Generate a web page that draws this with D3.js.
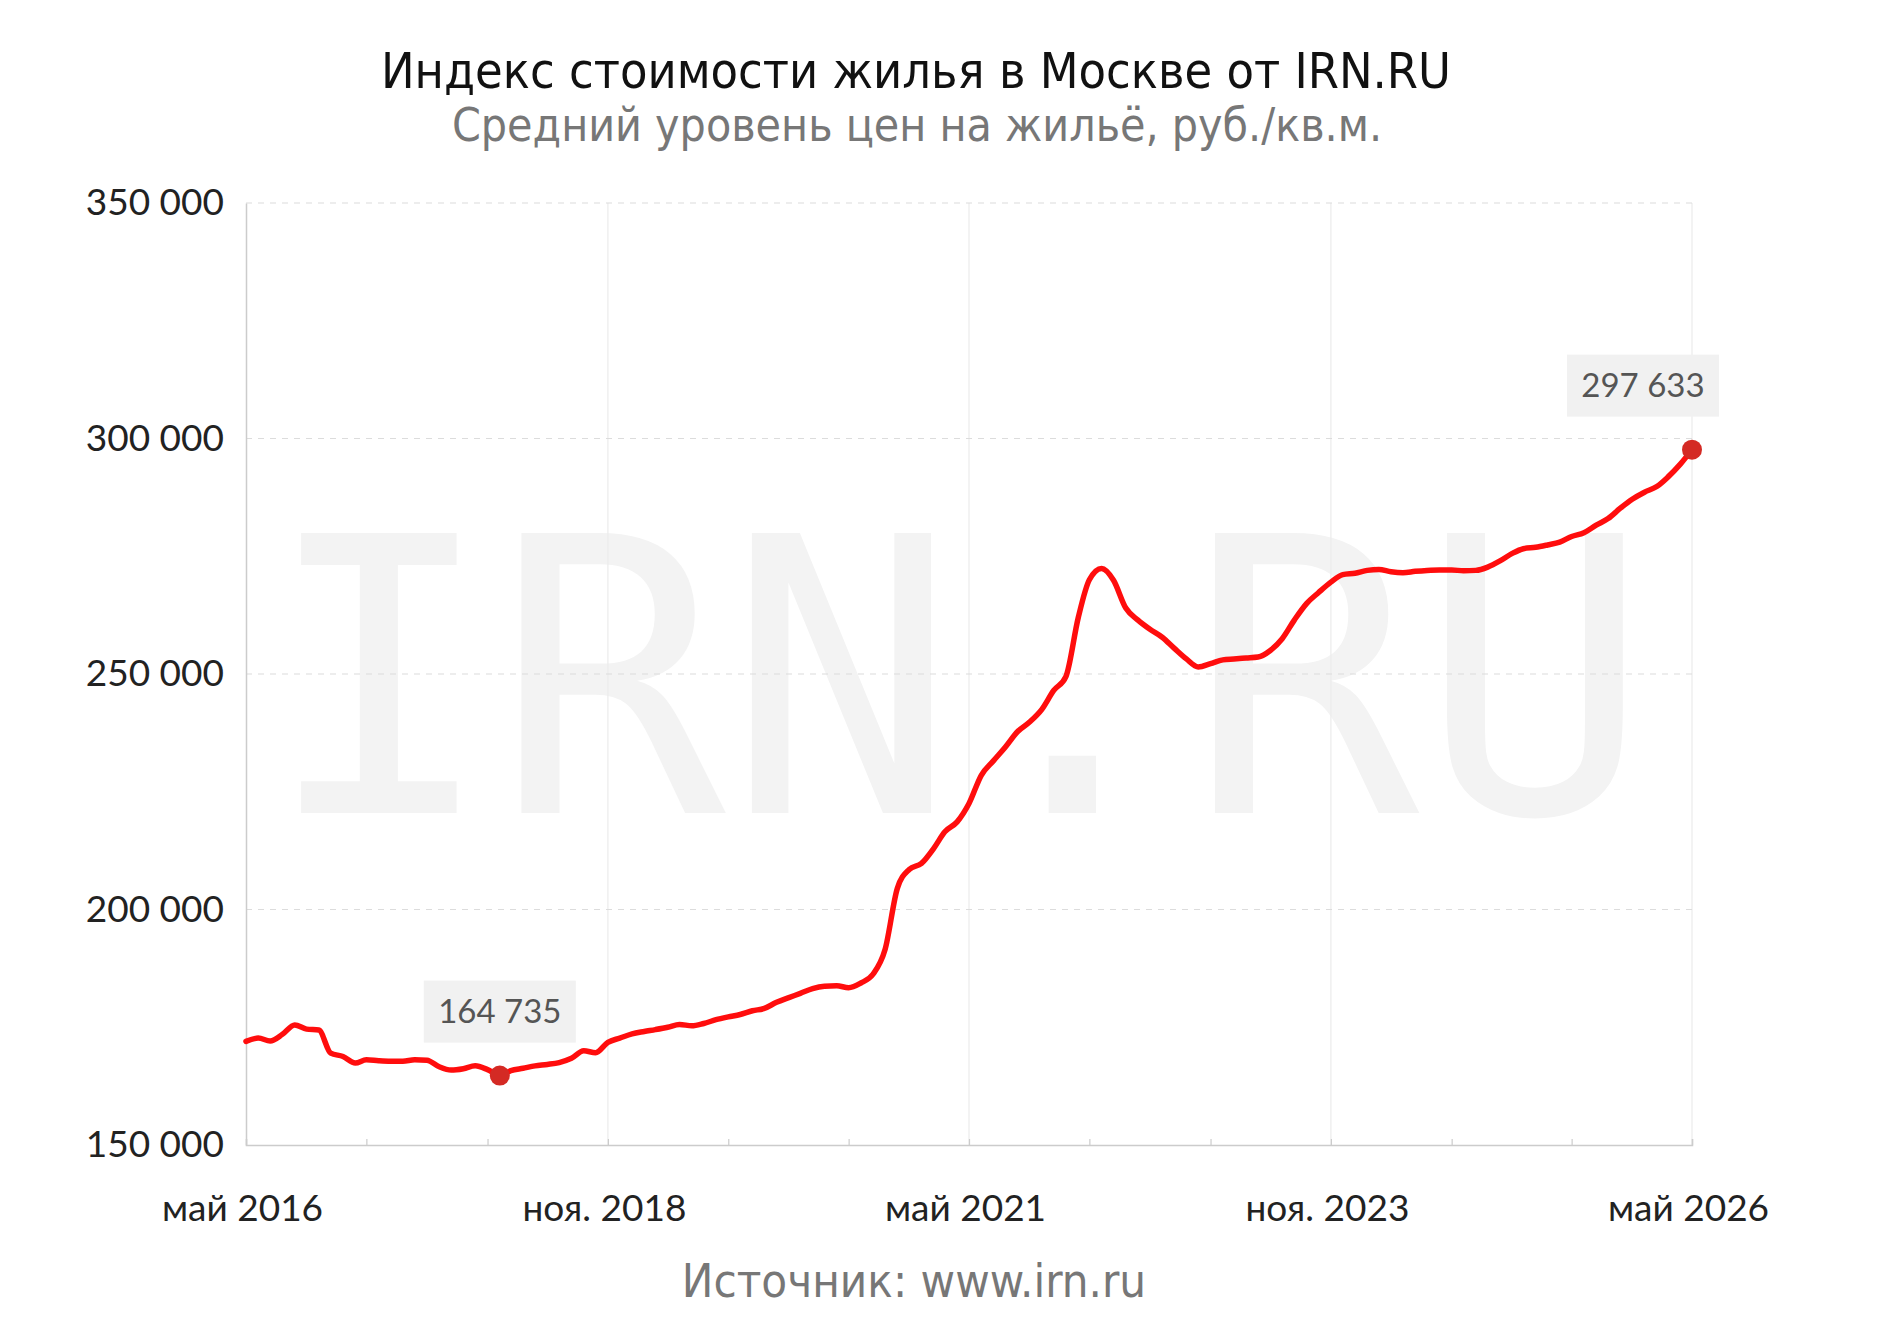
<!DOCTYPE html>
<html>
<head>
<meta charset="utf-8">
<script src="https://cdn.jsdelivr.net/npm/d3@7"></script>
<style>
  body { margin: 0; background: #fff; }
  svg { display: block; }
</style>
</head>
<body>
<svg id="chart" width="1880" height="1338"></svg>
<script>
// monthly index, May 2016 .. May 2026, rub per sq.m
const startMonth = new Date(2016, 4, 1);
const prices = [
  172000, 172700, 172100, 173500, 175500, 174600, 174400, 169500, 168800, 167400,
  168100, 167900, 167800, 167800, 168100, 168000, 166600, 165900, 166200, 166800,
  166000, 164735, 165800, 166300, 166800, 167100, 167500, 168400, 170000, 169600,
  171800, 172700, 173600, 174100, 174500, 175000, 175600, 175300, 175800, 176600,
  177200, 177700, 178500, 179000, 180300, 181300, 182200, 183200, 183700, 183800,
  183400, 184400, 186300, 191500, 204500, 208500, 209800, 213000, 216500, 218600,
  222500, 228500, 231500, 234500, 237800, 239800, 242500, 246500, 249500, 262000,
  270000, 272400, 269900, 264000, 261500, 259500, 257800, 255500, 253200, 251500,
  252200, 253000, 253200, 253400, 253600, 255000, 257500, 261500, 265000, 267300,
  269500, 271100, 271400, 272000, 272200, 271700, 271500, 271800, 272000, 272100,
  272100, 271900, 272000, 272700, 274000, 275600, 276600, 276900, 277400, 278000,
  279200, 280000, 281600, 283000, 285200, 287100, 288600, 289800, 291800, 294500,
  297633
];
const yTicks = [150000, 200000, 250000, 300000, 350000];
const xTickLabels = ["май 2016", "ноя. 2018", "май 2021", "ноя. 2023", "май 2026"];
const title = "Индекс стоимости жилья в Москве от IRN.RU";
const subtitle = "Средний уровень цен на жильё, руб./кв.м.";
const source = "Источник: www.irn.ru";

const data = prices.map((v, i) => ({ date: d3.timeMonth.offset(startMonth, i), value: v }));

const svg = d3.select("#chart");
const width = 1880;
const margin = { top: 203, right: 188, bottom: 193, left: 246 };
const height = 1338;

const x = d3
  .scaleTime()
  .domain([data[0].date, data[data.length - 1].date])
  .range([margin.left, width - margin.right]);

const y = d3
  .scaleLinear()
  .domain([150000, 350000])
  .range([height - margin.bottom, margin.top]);

const condensed = "'DejaVu Sans Condensed', 'DejaVu Sans', sans-serif";

// watermark
svg
  .append("text")
  .attr("x", (x.range()[0] + x.range()[1]) / 2 - 12)
  .attr("y", 813)
  .attr("text-anchor", "middle")
  .style("font-family", "'DejaVu Sans Mono', monospace")
  .style("font-size", "384px")
  .style("fill", "#f3f3f3")
  .text("IRN.RU");

// ticks every 10 months, labels every 30
const minorTicks = d3.range(0, prices.length, 10).map((m) => d3.timeMonth.offset(startMonth, m));
const majorTicks = minorTicks.filter((d, i) => i % 3 === 0);

// vertical grid
svg
  .append("g")
  .selectAll("line")
  .data(majorTicks.slice(1))
  .enter()
  .append("line")
  .attr("x1", (d) => x(d))
  .attr("x2", (d) => x(d))
  .attr("y1", y(350000))
  .attr("y2", y(150000))
  .attr("stroke", "#ebebeb")
  .attr("stroke-width", 1.2);

// horizontal grid (dashed)
svg
  .append("g")
  .selectAll("line")
  .data(yTicks.slice(1))
  .enter()
  .append("line")
  .attr("x1", x.range()[0])
  .attr("x2", x.range()[1])
  .attr("y1", (d) => y(d))
  .attr("y2", (d) => y(d))
  .attr("stroke", "#dcdcdc")
  .attr("stroke-width", 1.2)
  .attr("stroke-dasharray", "6,6");

// y axis
svg
  .append("g")
  .attr("transform", `translate(${margin.left}, 0)`)
  .call(
    d3
      .axisLeft(y)
      .tickValues(yTicks)
      .tickSize(0)
      .tickPadding(22)
      .tickFormat((d) => d3.format(",")(d).replace(",", " "))
  )
  .call((g) => g.select(".domain").attr("stroke", "#cccccc").attr("stroke-width", 1.5))
  .call((g) =>
    g
      .selectAll("text")
      .attr("fill", "#222")
      .style("font-family", "Lato, sans-serif")
      .style("font-size", "37px")
  );

// x axis
svg
  .append("g")
  .attr("transform", `translate(0, ${y(150000)})`)
  .call(
    d3
      .axisBottom(x)
      .tickValues(minorTicks)
      .tickSize(-6)
      .tickPadding(50)
      .tickFormat((d) => {
        const k = majorTicks.findIndex((t) => +t === +d);
        return k >= 0 ? xTickLabels[k] : "";
      })
  )
  .call((g) => g.select(".domain").attr("stroke", "#cccccc").attr("stroke-width", 1.5))
  .call((g) => g.selectAll(".tick line").attr("stroke", "#cccccc").attr("stroke-width", 1.2))
  .call((g) =>
    g
      .selectAll("text")
      .attr("dx", -4)
      .attr("fill", "#222")
      .style("font-family", "Lato, sans-serif")
      .style("font-size", "37px")
  );

// line
const line = d3
  .line()
  .x((d) => x(d.date))
  .y((d) => y(d.value))
  .curve(d3.curveMonotoneX);

svg
  .append("path")
  .attr("fill", "none")
  .attr("stroke", "#ff0d0d")
  .attr("stroke-width", 5.5)
  .attr("stroke-linejoin", "round")
  .attr("stroke-linecap", "round")
  .attr("d", line(data));

// min / last markers with labels
const minPoint = data.reduce((a, b) => (b.value < a.value ? b : a));
const lastPoint = data[data.length - 1];
const marks = [minPoint, lastPoint];
const fmt = (v) => d3.format(",")(v).replace(",", " ");

const boxW = 152,
  boxH = 62;
const marker = svg.append("g").selectAll("g").data(marks).enter().append("g");

marker
  .append("rect")
  .attr("x", (d) => Math.min(x(d.date) - boxW / 2, width - 161 - boxW))
  .attr("y", (d) => y(d.value) - 33 - boxH)
  .attr("width", boxW)
  .attr("height", boxH)
  .attr("fill", "#f1f1f1");

marker
  .append("text")
  .attr("x", (d) => Math.min(x(d.date) - boxW / 2, width - 161 - boxW) + boxW / 2)
  .attr("y", (d) => y(d.value) - 33 - boxH / 2)
  .attr("dy", "0.35em")
  .attr("text-anchor", "middle")
  .style("font-family", "Lato, sans-serif")
  .style("font-size", "33px")
  .style("fill", "#555")
  .text((d) => fmt(d.value));

marker
  .append("circle")
  .attr("cx", (d) => x(d.date))
  .attr("cy", (d) => y(d.value))
  .attr("r", 10)
  .attr("fill", "#d42a24");

// title, subtitle, source
svg
  .append("text")
  .attr("x", 916)
  .attr("y", 88)
  .attr("text-anchor", "middle")
  .style("font-family", condensed)
  .style("font-size", "50px")
  .style("fill", "#111")
  .text(title);

svg
  .append("text")
  .attr("x", 917)
  .attr("y", 141)
  .attr("text-anchor", "middle")
  .style("font-family", condensed)
  .style("font-size", "46px")
  .style("fill", "#777")
  .text(subtitle);

svg
  .append("text")
  .attr("x", 914)
  .attr("y", 1297)
  .attr("text-anchor", "middle")
  .style("font-family", condensed)
  .style("font-size", "47px")
  .style("fill", "#777")
  .text(source);
</script>
</body>
</html>
